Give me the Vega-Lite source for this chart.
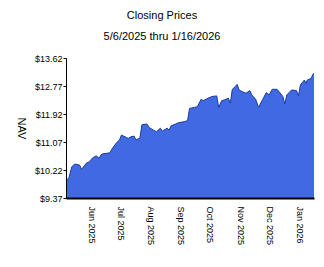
{
  "$schema": "https://vega.github.io/schema/vega-lite/v6.json",
  "autosize": "none",
  "width": 248,
  "height": 140,
  "padding": {"left": 66, "top": 58, "right": 10, "bottom": 69},
  "background": "white",
  "config": {
    "font": "Liberation Sans",
    "view": {"stroke": null}
  },
  "title": {
    "text": "Closing Prices",
    "subtitle": "5/6/2025 thru 1/16/2026",
    "anchor": "middle",
    "frame": "group",
    "dx": -28,
    "offset": 12,
    "fontSize": 11,
    "fontWeight": "normal",
    "color": "black",
    "subtitleFontSize": 11,
    "subtitleColor": "black",
    "subtitlePadding": 10,
    "font": "Liberation Sans",
    "subtitleFont": "Liberation Sans"
  },
  "data": {
    "values": [
      {"date": "2025-05-06", "nav": 9.90},
      {"date": "2025-05-09", "nav": 9.98},
      {"date": "2025-05-12", "nav": 10.32},
      {"date": "2025-05-15", "nav": 10.40},
      {"date": "2025-05-20", "nav": 10.37},
      {"date": "2025-05-22", "nav": 10.24},
      {"date": "2025-05-27", "nav": 10.43},
      {"date": "2025-05-30", "nav": 10.47},
      {"date": "2025-06-02", "nav": 10.58},
      {"date": "2025-06-06", "nav": 10.65},
      {"date": "2025-06-09", "nav": 10.58},
      {"date": "2025-06-11", "nav": 10.68},
      {"date": "2025-06-13", "nav": 10.71},
      {"date": "2025-06-20", "nav": 10.74},
      {"date": "2025-06-23", "nav": 10.89},
      {"date": "2025-06-27", "nav": 11.05},
      {"date": "2025-06-30", "nav": 11.13},
      {"date": "2025-07-02", "nav": 11.28},
      {"date": "2025-07-07", "nav": 11.21},
      {"date": "2025-07-09", "nav": 11.18},
      {"date": "2025-07-11", "nav": 11.22},
      {"date": "2025-07-15", "nav": 11.25},
      {"date": "2025-07-17", "nav": 11.13},
      {"date": "2025-07-21", "nav": 11.19},
      {"date": "2025-07-23", "nav": 11.59},
      {"date": "2025-07-28", "nav": 11.62},
      {"date": "2025-07-31", "nav": 11.50},
      {"date": "2025-08-04", "nav": 11.43},
      {"date": "2025-08-07", "nav": 11.38},
      {"date": "2025-08-11", "nav": 11.49},
      {"date": "2025-08-13", "nav": 11.40},
      {"date": "2025-08-18", "nav": 11.49},
      {"date": "2025-08-20", "nav": 11.43},
      {"date": "2025-08-22", "nav": 11.56},
      {"date": "2025-08-27", "nav": 11.62},
      {"date": "2025-08-29", "nav": 11.65},
      {"date": "2025-09-05", "nav": 11.69},
      {"date": "2025-09-08", "nav": 11.72},
      {"date": "2025-09-10", "nav": 12.09},
      {"date": "2025-09-15", "nav": 12.12},
      {"date": "2025-09-18", "nav": 12.14},
      {"date": "2025-09-22", "nav": 12.37},
      {"date": "2025-09-24", "nav": 12.32},
      {"date": "2025-09-29", "nav": 12.40},
      {"date": "2025-10-03", "nav": 12.45},
      {"date": "2025-10-08", "nav": 12.47},
      {"date": "2025-10-10", "nav": 12.12},
      {"date": "2025-10-13", "nav": 12.32},
      {"date": "2025-10-16", "nav": 12.35},
      {"date": "2025-10-20", "nav": 12.40},
      {"date": "2025-10-22", "nav": 12.25},
      {"date": "2025-10-24", "nav": 12.67},
      {"date": "2025-10-27", "nav": 12.75},
      {"date": "2025-10-29", "nav": 12.82},
      {"date": "2025-10-31", "nav": 12.65},
      {"date": "2025-11-03", "nav": 12.60},
      {"date": "2025-11-07", "nav": 12.55},
      {"date": "2025-11-11", "nav": 12.63},
      {"date": "2025-11-13", "nav": 12.50},
      {"date": "2025-11-17", "nav": 12.37},
      {"date": "2025-11-20", "nav": 12.12},
      {"date": "2025-11-24", "nav": 12.35},
      {"date": "2025-11-28", "nav": 12.57},
      {"date": "2025-12-01", "nav": 12.50},
      {"date": "2025-12-04", "nav": 12.67},
      {"date": "2025-12-09", "nav": 12.67},
      {"date": "2025-12-11", "nav": 12.60},
      {"date": "2025-12-15", "nav": 12.45},
      {"date": "2025-12-17", "nav": 12.22},
      {"date": "2025-12-19", "nav": 12.50},
      {"date": "2025-12-24", "nav": 12.65},
      {"date": "2025-12-29", "nav": 12.63},
      {"date": "2025-12-31", "nav": 12.47},
      {"date": "2026-01-02", "nav": 12.80},
      {"date": "2026-01-06", "nav": 12.95},
      {"date": "2026-01-08", "nav": 12.85},
      {"date": "2026-01-09", "nav": 12.95},
      {"date": "2026-01-13", "nav": 13.00},
      {"date": "2026-01-15", "nav": 13.13},
      {"date": "2026-01-16", "nav": 13.15}
    ],
    "format": {"parse": {"date": "utc:'%Y-%m-%d'"}}
  },
  "mark": {
    "type": "area",
    "color": "#4169E1",
    "opacity": 1,
    "line": {"color": "#1b3c9e", "strokeWidth": 1}
  },
  "encoding": {
    "x": {
      "field": "date",
      "type": "temporal",
      "scale": {
        "type": "utc",
        "domain": [
          {"year": 2025, "month": 5, "date": 6, "utc": true},
          {"year": 2026, "month": 1, "date": 16, "utc": true}
        ],
        "nice": false
      },
      "axis": {
        "title": null,
        "zindex": 1,
        "values": [
          {"year": 2025, "month": 6, "date": 1, "utc": true},
          {"year": 2025, "month": 7, "date": 1, "utc": true},
          {"year": 2025, "month": 8, "date": 1, "utc": true},
          {"year": 2025, "month": 9, "date": 1, "utc": true},
          {"year": 2025, "month": 10, "date": 1, "utc": true},
          {"year": 2025, "month": 11, "date": 1, "utc": true},
          {"year": 2025, "month": 12, "date": 1, "utc": true},
          {"year": 2026, "month": 1, "date": 1, "utc": true}
        ],
        "labelExpr": "utcFormat(datum.value, '%b  %Y')",
        "labelAngle": 90,
        "labelAlign": "left",
        "labelBaseline": "middle",
        "labelFontSize": 9,
        "labelColor": "black",
        "labelPadding": 8,
        "labelFlush": false,
        "labelOverlap": false,
        "ticks": false,
        "grid": false,
        "domainColor": "black",
        "domainWidth": 2
      }
    },
    "y": {
      "field": "nav",
      "type": "quantitative",
      "scale": {"domain": [9.37, 13.62], "nice": false, "zero": false},
      "axis": {
        "title": "NAV",
        "zindex": 1,
        "titleAngle": 90,
        "titleFontSize": 11,
        "titleFontWeight": "normal",
        "titleColor": "black",
        "titleX": -46,
        "titleY": 70,
        "titleAlign": "center",
        "titleBaseline": "middle",
        "values": [9.37, 10.22, 11.07, 11.92, 12.77, 13.62],
        "format": "$.2f",
        "labelFontSize": 9,
        "labelColor": "black",
        "labelPadding": 1,
        "labelFlush": false,
        "labelOverlap": false,
        "tickSize": 3,
        "tickColor": "black",
        "grid": false,
        "domainColor": "black",
        "domainWidth": 1
      }
    },
    "y2": {"datum": 9.37}
  }
}
